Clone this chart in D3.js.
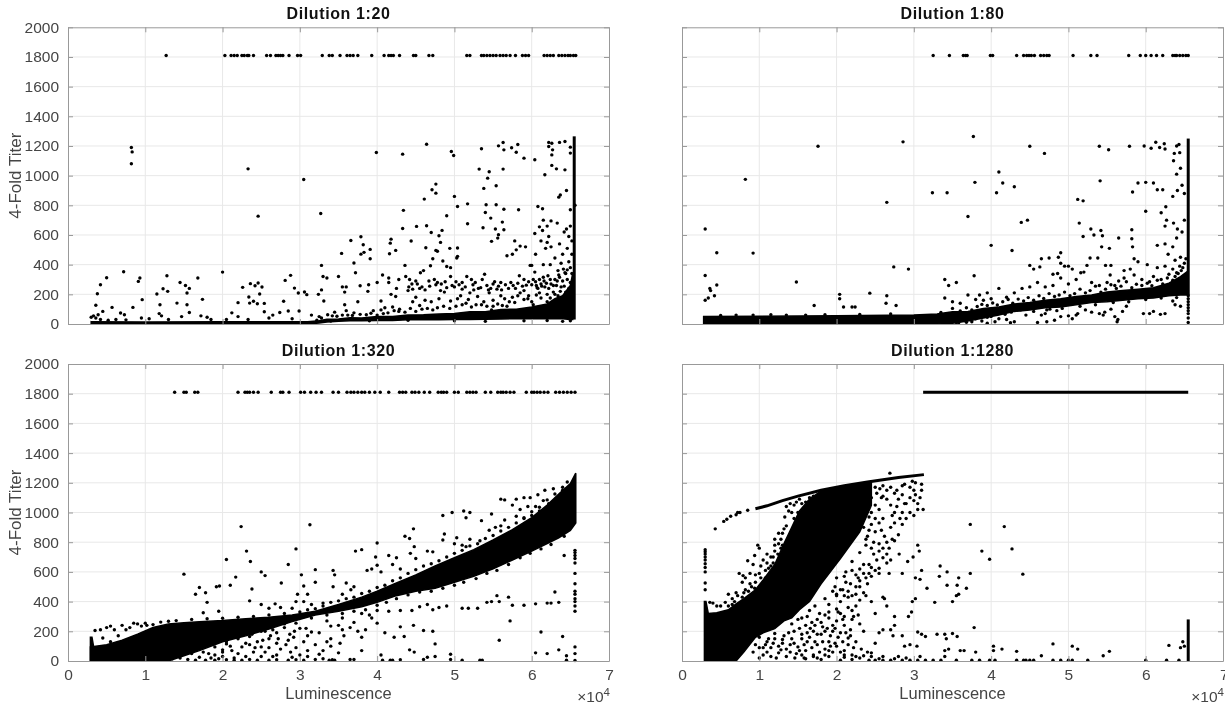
<!DOCTYPE html>
<html><head><meta charset="utf-8">
<script src="https://cdn.jsdelivr.net/npm/d3@7"></script>
<style>
html,body{margin:0;padding:0;background:#fff}
svg{display:block;filter:blur(0.35px)}
text{font-family:"Liberation Sans",Arial,sans-serif}
</style></head><body><svg id="c" width="1225" height="705"></svg>
<script>
const titles=["Dilution 1:20","Dilution 1:80","Dilution 1:320","Dilution 1:1280"];
const xTicks=[0,1,2,3,4,5,6,7];
const yTicks=[0,200,400,600,800,1000,1200,1400,1600,1800,2000];
const topTiter=1810;

const top1=[1.27,2.03,2.11,2.15,2.19,2.25,2.28,2.32,2.34,2.4,2.57,2.62,2.69,2.72,2.75,2.78,2.86,2.97,3.01,3.29,3.38,3.42,3.52,3.61,3.65,3.69,3.75,3.93,4.09,4.15,4.18,4.21,4.29,4.47,4.5,4.67,4.72,5.16,5.2,5.35,5.38,5.42,5.46,5.5,5.54,5.59,5.63,5.67,5.72,5.79,5.88,5.92,5.96,6.16,6.2,6.24,6.28,6.35,6.39,6.43,6.47,6.5,6.54,6.57];
const top2=[3.25,3.46,3.64,3.67,3.69,3.99,4.02,4.33,4.42,4.46,4.49,4.52,4.56,4.64,4.68,4.72,4.75,5.06,5.29,5.37,5.78,5.93,6.0,6.07,6.14,6.22,6.35,6.38,6.4,6.44,6.48,6.52,6.55];
const top3=[1.38,1.5,1.53,1.64,1.68,2.2,2.29,2.32,2.35,2.4,2.46,2.63,2.75,2.78,2.86,3.01,3.06,3.14,3.21,3.28,3.43,3.5,3.61,3.66,3.7,3.75,3.8,3.84,3.9,3.97,4.04,4.15,4.29,4.33,4.37,4.45,4.49,4.54,4.61,4.68,4.79,4.83,4.86,4.9,5.0,5.05,5.16,5.2,5.24,5.28,5.4,5.47,5.56,5.6,5.63,5.67,5.72,5.77,5.93,6.0,6.03,6.07,6.11,6.16,6.21,6.31,6.36,6.41,6.46,6.51,6.56];
const topLine4=[[3.12,1810],[6.55,1810]];

const scatter1=[[.82,1190],[.83,1160],[.82,1080],[.72,352],[.5,312],[.42,265],[.38,204],[.36,126],[.57,112],[.45,85],[.68,74],[.73,62],[.84,112],[.91,287],[.93,310],[.96,164],[1.15,202],[1.19,130],[1.23,238],[1.28,325],[1.29,220],[1.41,141],[1.45,280],[1.52,260],[1.57,240],[1.54,209],[1.54,130],[1.57,78],[1.68,310],[1.74,166],[2,350],[2.2,144],[2.26,247],[2.36,272],[2.46,276],[2.42,258],[2.51,249],[2.48,202],[2.34,182],[2.4,153],[2.45,137],[2.35,141],[2.54,139],[2.54,83],[2.81,294],[2.88,328],[2.79,153],[2.93,242],[2.98,209],[3.06,216],[3.09,198],[2.99,88],[2.85,88],[2.74,78],[2.65,60],[.3,45],[.33,55],[.36,40],[.39,62],[.42,30],[.52,25],[.62,30],[.75,28],[.95,40],[1.05,35],[1.18,70],[1.21,55],[1.3,30],[1.47,50],[1.72,55],[1.8,45],[1.85,30],[2.05,30],[2.12,75],[2.2,50],[2.33,30],[2.6,40],[2.9,35],[3.15,60],[3.25,50],
[2.33,1046],[2.46,727],[3.05,974],[3.27,745],[3.99,1156],[4.33,1145],[4.64,1212],[4.96,1163],[4.99,1136],[5.35,1181],[5.57,1201],[5.63,1223],[5.64,1174],[5.74,1188],[5.82,1210],[5.8,1158],[5.9,1118],[6.04,1107],[6.22,1224],[6.26,1218],[6.36,1224],[6.43,1230],[6.22,1197],[6.27,1174],[6.26,1140],[6.26,1069],[6.32,1046],[6.17,1006],[6.43,1039],[6.5,1192],[6.5,1152],[5.32,1044],[5.45,1026],[5.43,983],[5.63,1044],[5.38,914],[5.54,932],[4.76,943],[4.71,905],[4.76,882],[4.61,842],[5,860],[5.04,792],[5.17,810],[5.41,804],[5.54,804],[5.4,752],[5.47,714],[5.64,774],[5.83,770],[6.08,792],[6.14,777],[4.34,766],[4.9,730],[5.17,676],[5.37,649],[5.53,640],[5.62,687],[5.64,635],[5.57,602],[5.56,579],[5.48,557],[4.33,644],[4.51,658],[4.64,662],[4.7,617],[4.44,559],[4.84,631],[4.8,595],[4.82,550],[4.63,514],[4.76,496],[4.94,510],[5.04,512],[3.66,563],[3.79,588],[3.82,534],[4.18,572],[4.17,545],[4.24,496],[3.91,503],[3.83,483],[3.79,471],[3.54,476],[4.16,474],[3.91,440],[3.7,411],[3.28,395],[4.36,395],[4.69,393],[4.9,388],[5.04,456],[5.03,445],[4.78,490],[4.72,440],[4.85,425],[4.95,380],[6.45,900],[6.37,870],[6.35,855],[6.5,770],[6.56,800],[6.15,700],[6.25,695],[6.33,680],[6.2,660],[6.1,655],[6.04,610],[6.14,630],[6.22,590],[6.12,560],[6.2,550],[6.18,510],[6.25,520],[6.36,540],[6.45,640],[6.5,660],[6.42,620],[6.48,590],[6.52,560],[6.4,470],[6.46,510],[6.52,470],[6.3,445],[6.05,470],[6.15,400],[6.24,400],[6,395],[5.92,520],[5.78,560],[5.8,500],[5.75,470],[5.68,460],[5.85,525],[5.98,395],
[3.3,320],[3.35,310],[3.28,230],[3.24,200],[3.31,155],[3.5,320],[3.55,250],[3.6,250],[3.58,215],[3.72,345],[3.78,258],[3.89,265],[3.88,220],[3.58,130],[3.6,90],[3.75,150],[4,280],[4.07,330],[4.15,310],[4.15,280],[4.28,300],[4.25,240],[4.18,200],[4.24,185],[4.29,100],[4.42,300],[4.37,320],[4.41,250],[4.46,235],[4.5,290],[4.52,270],[4.56,345],[4.6,360],[4.67,290],[4.74,300],[4.78,280],[4.83,270],[4.88,285],[4.95,320],[5,250],[5.06,265],[5.1,235],[5.16,320],[5.22,300],[5.27,280],[5.31,240],[5.39,335],[5.42,260],[5.47,240],[5.52,285],[5.57,255],[5.61,230],[5.66,265],[5.73,280],[5.79,240],[5.84,325],[5.9,300],[5.96,285],[6.04,350],[6.06,260],[6.1,300],[6.16,290],[6.21,325],[6.25,270],[6.3,300],[6.34,360],[6.38,250],[6.44,340],[4.4,225],[4.46,150],[4.5,180],[4.55,125],[4.62,160],[4.7,150],[4.8,170],[4.95,155],[5.08,190],[5.15,140],[5.2,210],[5.3,185],[5.35,130],[5.45,210],[5.5,160],[5.6,190],[5.68,120],[5.75,180],[5.85,210],[5.95,170],[6.02,130],[6.1,210],[6.2,150],[6.3,200],[6.4,180],[4.05,155],[4.1,110],[4.2,115],[3.95,90],[4.05,95],[3.7,75],[3.45,80],[5.25,230],[4.58,250],[4.87,215],[5.9,225],[6.07,245],[6.17,250],[6.32,260],[6.12,270],[5.04,170],[5.48,95],[6.48,420],[6.38,410],[6.5,380],[6.43,345]];
const extra1=[[4.45,270],[4.55,240],[4.62,230],[4.68,255],[4.76,265],[4.82,225],[4.9,245],[4.97,260],[5.02,285],[5.1,280],[5.14,250],[5.24,265],[5.34,245],[5.36,300],[5.44,230],[5.5,270],[5.55,235],[5.6,280],[5.7,240],[5.76,260],[5.82,275],[5.88,255],[5.93,262],[6,265],[6.02,300],[6.05,285],[6.08,240],[6.13,255],[6.15,315],[6.19,275],[6.22,240],[6.24,300],[6.28,260],[6.33,290],[6.36,315],[6.4,290],[6.42,255],[6.46,300],[6.5,280],[6.52,340],[6.48,240],[6.35,330],[6.41,370],[6.46,365],[6.2,200],[6.24,175],[6.28,215],[6.34,190],[6.37,220],[6.44,215],[6.47,190],[6.12,175],[6.06,195],[6,150],[5.96,190],[5.9,165],[5.82,190],[5.78,145],[5.71,150],[5.65,170],[5.62,125],[5.56,135],[5.5,120],[5.42,120],[5.38,150],[5.28,130],[5.22,115],[5.18,165],[5.1,130],[5.02,120],[4.94,105],[4.86,120],[4.78,110],[4.72,95],[4.65,105],[4.58,100],[4.5,85],[4.43,105],[4.36,80],[4.28,85],[4.22,90],[4.14,75],[4.08,70],[4,60],[3.92,72],[3.86,62],[3.78,65],[3.68,58],[3.62,60],[3.55,60],[3.48,52],[3.42,55],[3.36,62],[3.28,40],[3.22,25],[3.4,20],[3.9,22],[4.4,25],[5,22],[5.4,18],[5.9,22],[6.2,24],[6.4,18],[6.5,22]];
const band1=[[.3,0,16],[1,0,14],[2,0,15],[3.1,0,16],[3.25,6,22],[3.35,14,32],[3.5,18,34],[3.65,22,42],[3.8,22,40],[4,24,50],[4.2,24,50],[4.4,28,60],[4.6,28,62],[4.8,28,68],[5,30,70],[5.2,30,82],[5.4,32,82],[5.6,34,98],[5.8,36,100],[6,36,115],[6.2,36,135],[6.3,36,170],[6.4,36,190],[6.5,30,260],[6.53,30,340]];
const bar1=[[6.55,30],[6.55,1265]];

const scatter2=[[.3,640],[.3,327],[.45,480],[.45,263],[.36,240],[.37,225],[.42,190],[.34,175],[.3,160],[.82,975],[.92,478],[1.48,283],[1.76,1198],[1.71,125],[2.04,200],[2.04,170],[2.09,115],[2.2,115],[2.24,115],[2.43,208],[2.65,820],[2.64,140],[2.65,190],[2.77,125],[2.74,385],[2.93,370],[2.86,1228],[3.24,885],[3.43,885],[3.7,725],[3.77,1264],[3.79,955],[3.78,325],[3.4,300],[3.45,260],[3.55,280],[4.07,885],[4.0,530],[4.1,1025],[4.15,950],[4.3,925],[4.39,685],[4.47,700],[4.27,495],[4.5,1198],[4.69,1150],[4.9,480],[4.9,410],[4.75,445],[4.65,440],[4.5,395],[4.55,370],[4.63,385],[4.8,335],[4.86,340],[4.87,450],[4.95,390],[5.0,390],[5.05,370],[5.14,680],[5.19,590],[5.16,345],[5.24,395],[5.28,445],[5.12,840],[5.19,830],[5.29,640],[5.33,600],[5.42,630],[5.44,595],[5.43,520],[5.38,445],[5.48,395],[5.55,395],[5.54,330],[5.53,510],[5.65,580],[5.82,635],[5.82,575],[5.83,520],[5.85,440],[5.79,1198],[5.4,1198],[5.52,1175],[5.41,965],[5.83,890],[5.9,950],[6.0,955],[6.1,950],[6.15,905],[6.22,905],[6.0,760],[6.26,790],[6.35,860],[6.4,1010],[6.45,1050],[6.41,900],[6.47,935],[6.5,880],[6.36,1100],[6.4,1200],[6.18,1190],[6.07,1185],[5.98,1200],[6.13,1225],[6.24,1215],[6.25,1180],[6.37,1150],[6.44,1155],[6.43,1210],[6.2,750],[6.25,660],[6.27,700],[6.36,680],[6.41,640],[6.47,620],[6.5,700],[6.4,580],[6.35,520],[6.25,540],[6.15,530],[6.29,470],[6.25,390],[6.38,430],[6.4,345],[6.35,370],[6.15,380],[6.02,400],[5.9,420],[5.8,370],[5.85,330],[5.72,360],[5.72,310],[5.65,290],[5.6,260],[5.5,280],[5.4,260],[5.3,280],[5.2,350],[5.1,300],[5.0,270],[4.9,310],[4.8,260],[4.7,250],[4.6,280],[4.5,250],[4.4,240],[4.3,210],[4.2,180],[4.1,240],[4,170],[3.95,210],[3.9,160],[3.85,195],[3.8,165],[3.7,195],[3.6,140],[3.5,150],[3.4,175],[5.95,300],[6.05,285],[6.1,320],[6.2,300],[6.3,335],[6.45,450],[6.48,380],[6.2,240],[5.97,70],[6.05,70],[6.1,85],[6.19,65],[6.25,70],[6.35,155],[6.45,120],[6.38,130],[5.45,60],[5.55,100],[5.47,80],[5.4,70],[5.3,80],[5.1,60],[5.0,55],[5.05,35],[4.85,90],[4.82,25],[4.6,10],[4.1,35],[4.2,30],[3.55,10],[3.3,20],[3.65,30],[3.75,15],[4.3,15],[4.45,60],[4.65,60],[4.9,50],[5.6,50],[5.63,15],[5.64,30],[3.8,60],[4,50],[4.7,70],[4.76,100],[5.22,95],[5.12,70],[5.7,85],[5.75,120]];
const extra2=[[3.35,78],[3.5,105],[3.6,88],[3.68,110],[3.75,95],[3.82,118],[3.88,132],[3.95,125],[4.02,142],[4.08,128],[4.15,150],[4.22,165],[4.28,140],[4.35,168],[4.42,155],[4.48,178],[4.55,160],[4.62,190],[4.68,172],[4.75,205],[4.82,185],[4.88,195],[4.95,215],[5.02,190],[5.08,205],[5.15,235],[5.22,210],[5.28,225],[5.35,255],[5.42,215],[5.48,235],[5.55,265],[5.62,240],[5.68,255],[5.75,285],[5.82,245],[5.88,268],[5.95,260],[6.02,275],[6.08,258],[6.15,295],[6.22,270],[6.28,310],[6.35,295],[6.42,340],[6.46,360],[6.5,410],[6.52,440],[6.44,390],[6.38,320],[3.42,30],[3.5,20],[3.6,45],[3.72,60],[3.8,35],[3.88,20],[3.95,45],[4.02,70],[4.18,65],[4.26,80],[4.38,95],[4.55,85],[4.72,95],[4.92,105],[5.15,120],[5.35,130],[5.58,145],[5.78,150],[6.0,165],[6.2,175],[6.4,178],[3.4,5],[3.58,8],[3.68,12],[3.95,5],[4.05,15],[4.25,8],[4.72,15],[.5,58],[.7,60],[.92,60],[1.15,62],[1.35,60],[1.6,60],[1.85,62],[2.3,64],[2.7,68]];
const band2=[[.28,0,50],[1,0,52],[2,0,56],[3,0,60],[3.3,0,68],[3.5,5,82],[3.7,20,85],[3.9,40,105],[4.1,60,115],[4.3,85,135],[4.5,95,145],[4.7,110,160],[4.9,115,170],[5.1,130,185],[5.3,145,195],[5.5,150,215],[5.7,160,225],[5.9,170,235],[6.1,175,245],[6.3,190,275],[6.45,195,320],[6.53,195,350]];
const bar2=[[6.55,195],[6.55,1250]];
const vert2=[[6.55,190],[6.55,170],[6.55,150],[6.55,130],[6.55,110],[6.55,90],[6.55,70],[6.55,40],[6.55,10]];

const scatter3=[[1.5,585],[1.65,450],[1.7,495],[1.78,460],[1.8,395],[1.75,325],[1.92,500],[1.96,505],[1.95,335],[2.1,510],[2.05,683],[2.17,565],[2.24,905],[2.31,740],[2.36,670],[2.38,485],[2.35,405],[2.5,600],[2.55,575],[2.85,650],[2.76,525],[2.95,755],[3.13,918],[2.97,450],[3.02,580],[3.05,505],[3.2,615],[3.2,530],[3.1,450],[2.9,355],[2.6,355],[2.5,380],[2.68,385],[2.75,360],[2.95,400],[3.05,400],[3.15,380],[3.3,390],[3.43,610],[3.45,580],[3.43,500],[3.55,450],[3.6,525],[3.66,480],[3.7,500],[3.72,740],[3.8,750],[3.87,610],[3.93,620],[4,795],[3.98,700],[4,645],[4.05,600],[4.15,710],[4.2,650],[4.25,695],[4.3,620],[4.36,840],[4.42,825],[4.47,890],[4.48,770],[4.43,725],[4.5,690],[4.65,740],[4.72,735],[4.85,980],[4.97,1000],[5.12,1010],[5.15,965],[5.2,1000],[5.35,945],[5.48,990],[4.87,855],[4.85,815],[5.0,790],[5.03,830],[5.1,780],[5.15,770],[5.2,820],[5.33,810],[5.6,1090],[5.65,1085],[5.8,1090],[5.9,1100],[5.98,1100],[6.08,1120],[6.17,1150],[6.28,1160],[6.3,1080],[6.4,1150],[5.53,900],[5.65,950],[5.75,1050],[5.85,1020],[5.95,1040],[6.05,1040],[6.1,1010],[6.22,1060],[5.45,880],[5.6,910],[5.8,975],[5.9,960],[6,980],[6.15,1080],[6.25,1015],[1.0,255],[.9,250],[.85,255],[.7,240],[.55,235],[.35,205],[.42,210],[.5,225],[.6,210],[.75,210],[.45,155],[.55,130],[.65,170],
[6.35,395],[6.25,390],[6.2,390],[6.05,385],[5.9,375],[5.75,375],[5.7,430],[5.55,440],[5.48,400],[5.58,400],[5.42,395],[5.3,355],[5.18,355],[5.1,355],[4.9,370],[4.8,360],[4.72,345],[4.65,380],[4.55,365],[4.45,340],[4.3,340],[4.15,335],[4,340],[6.3,465],[6.42,710],[5.72,270],[5.58,140],[6.12,195],[6.4,165],[6.05,55],[6.2,50],[6.35,75],[6.45,35],[4.75,115],[4.95,45],[4.72,200],[4.6,205],[4.47,240],[4.3,230],[4.35,165],[4.22,160],[4.1,190],[4,255],[3.93,290],[3.9,310],[3.8,320],[3.7,260],[3.75,200],[3.85,210],[3.8,160],[3.8,70],[3.7,10],[3.65,10],[3.65,225],[3.55,210],[3.5,240],[3.4,235],[3.35,270],[3.55,290],[3.35,130],[3.4,150],[3.52,120],[3.57,170],[3.25,190],[3.15,195],[3.08,220],[3.1,170],[3.05,130],[2.93,200],[2.87,180],[2.8,225],[2.7,190],[2.6,150],[2.55,200],[2.5,95],[2.45,130],[2.38,180],[2.3,120],[2.2,160],[2.1,100],[2.0,75],[2.05,130],[1.9,40],[3.3,70],[3.4,100],[3.5,55],[3.3,15],[3.38,5],[3.42,8],[3.45,5],[3.2,10],[3.05,5],[2.95,8],[2.85,5],[2.7,8],[2.6,5],[2.45,5],[2.35,10],[2.25,5],[2.05,8],[4.05,40],[4.07,5],[4.17,5],[4.2,5],[4.3,8],[4.42,75],[4.48,60],[4.6,10],[4.65,25],[4.75,30],[4.95,10],[5.1,5],[5.33,5],[5.36,5],[6.45,5],[2.7,120],[2.85,140],[2.95,90],[2.55,60],[2.65,30],[2.75,80],[2.88,60],[3,40],[3.1,70],[3.2,110],[2.4,60],[2.3,30],[2.2,50],[2.15,20],[2.6,90],[2.5,30],[2.7,40],[2.9,25],[3.1,30],[3.25,45],[1.95,15],[2.0,30],[1.85,20]];
const extra3=[[.8,225],[.95,235],[1.02,240],[1.1,245],[1.2,262],[1.3,268],[1.4,272],[1.6,280],[1.8,285],[2,288],[2.2,295],[2.4,300],[2.6,310],[2.8,320],[3,330],[3.1,345],[3.2,352],[3.3,370],[3.4,395],[3.5,405],[3.6,420],[3.7,430],[3.8,455],[3.9,470],[4,495],[4.1,510],[4.2,540],[4.3,560],[4.4,590],[4.5,615],[4.6,640],[4.7,655],[4.8,675],[4.9,700],[5,725],[5.1,745],[5.2,775],[5.3,790],[5.4,825],[5.5,845],[5.6,875],[5.7,900],[5.8,930],[5.9,965],[6,1005],[6.1,1035],[6.2,1085],[6.3,1125],[6.4,1170],[6.46,1205],[3.15,290],[3.35,310],[3.55,320],[3.7,335],[3.85,345],[4,375],[4.12,395],[4.25,420],[4.4,445],[4.55,465],[4.7,470],[4.85,490],[5,510],[5.12,530],[5.28,555],[5.42,590],[5.55,610],[5.7,650],[5.85,695],[5.98,725],[6.12,755],[6.25,785],[6.42,840],[1.35,15],[1.45,20],[1.6,50],[1.75,60],[1.9,95],[2.05,115],[2.2,150],[2.35,165],[2.5,200],[2.65,210],[2.8,250],[2.95,255],[1.55,10],[1.7,25],[1.82,50],[2,60],[2.12,70],[2.25,95],[2.35,110],[2.42,90],[2.52,140],[2.62,170],[2.72,150],[2.82,110],[2.92,160],[3,220],[1.65,5],[1.78,5],[1.9,5],[2.15,5]];
const band3=[[.29,0,95],[.5,0,110],[.7,0,140],[.9,0,180],[1.1,0,225],[1.3,0,250],[1.5,35,258],[1.7,70,265],[2,130,272],[2.3,170,285],[2.6,215,295],[2.9,265,310],[3.2,310,335],[3.5,335,380],[3.8,365,430],[4,395,470],[4.25,440,525],[4.5,470,580],[4.75,490,640],[5,530,695],[5.25,570,750],[5.5,620,815],[5.75,680,885],[6,740,965],[6.2,790,1050],[6.35,830,1125],[6.5,880,1195],[6.57,930,1265]];
const spike3=[[.29,0,160],[.31,0,160],[.33,0,100]];
const vert3=[[6.56,745],[6.56,730],[6.56,710],[6.56,690],[6.56,660],[6.56,590],[6.56,520],[6.56,470],[6.56,450],[6.56,420],[6.56,400],[6.56,370],[6.56,335],[6.56,95],[6.56,50],[6.56,3]];

const scatter4=[[.43,890],[.54,940],[.58,955],[.63,975],[.7,985],[.75,1000],[.85,1015],[2.69,1265],[.3,750],[.3,735],[.3,720],[.3,700],[.3,680],[.3,655],[.3,630],[.3,600],[.3,525],[.3,480],[.36,395],[.4,390],[.45,370],[.5,370],[.56,395],[.65,420],[.7,460],[.6,450],[.8,460],[.74,590],[.79,575],[.88,590],[.85,675],[.94,710],[1,760],[.98,780],[.92,650],[1,590],[.82,560],[.78,530],[.95,530],[.9,500],[1.05,680],[1.1,720],[1.15,640],[1.2,780],[1.25,790],[1.18,700],[1.12,625],[1.08,560],[1.3,860],[1.35,910],[1.4,850],[1.33,970],[1.38,1010],[1.45,960],[1.5,1000],[1.55,1060],[1.45,1050],[1.6,1070],[1.3,780],[1.24,720],[1.28,820],[1.36,800],[.72,1000],
[1,160],[1.1,130],[1.2,185],[1.3,145],[1.4,110],[1.15,90],[1.25,55],[1.4,60],[1.5,95],[1.6,70],[1.7,40],[1.55,150],[1.65,160],[1.75,110],[1.85,80],[1.95,60],[1.45,200],[1.6,240],[1.7,200],[1.8,180],[1.9,130],[2,100],[2.1,70],[2.2,40],[1.75,280],[1.85,310],[1.95,240],[2.05,190],[2.15,155],[2.25,130],[2.32,80],[2.1,300],[2.0,350],[2.15,360],[2.2,280],[2.3,250],[2.35,200],[2.25,370],[2.3,410],[1.9,380],[1.95,470],[2.0,440],[2.05,400],[2.08,480],[2.12,530],[2.18,520],[2.25,500],[2.35,460],[2.38,440],[2.45,400],[2.5,320],[2.55,190],[2.5,120],[2.45,55],[2.55,15],[2.7,210],[2.73,170],[2.85,170],[2.88,100],[2.95,110],[2.93,300],[2.97,330],[2.75,300],[2.75,240],[2.6,210],[2.65,370],[2.45,570],[2.5,610],[2.55,625],[2.6,430],[2.62,420],[2.68,590],[2.7,680],[2.3,620],[2.35,650],[2.42,650],[2.48,720],[2.55,590],[2.6,695],[2.65,660],[2.72,820],[2.81,720],[2.85,590],[2.92,670],[2.99,700],[3.02,560],[3.05,780],[3.07,740],[3.1,610],[3.08,550],[3.02,420],[2.98,400],[3.05,195],[3.1,180],[3.15,165],[3.04,100],[3.08,30],[3.3,180],[3.27,395],[3.17,490],[3.34,640],[3.33,570],[3.43,600],[3.43,510],[3.56,510],[3.58,560],[3.58,450],[3.55,440],[3.5,400],[3.68,490],[3.73,590],[3.73,920],[3.88,740],[3.98,685],[4.17,905],[4.27,755],[4.41,585],[3.78,225],[3.4,180],[3.5,185],[3.56,165],[3.42,150],[3.4,70],[3.45,80],[3.6,70],[3.65,70],[3.8,60],[4.03,100],[4.14,80],[4.03,70],[4.33,65],[4.65,35],[4.8,115],[5.05,100],[5.12,80],[5.45,35],[5.53,65],[6.3,105],[6.45,90],[6.48,130],[6.5,100],[4.9,5],[4.8,5],[5,5],[5.05,5],[5.25,5],[4.55,5],[4.5,5],[4.42,5],[4.45,5],[4.33,5],[4.05,5],[3.85,5],[3.75,5],[3.98,5],[3.55,5],[6,5],[6.27,5],[6.43,5],
[2.4,1040],[2.45,1000],[2.5,1050],[2.55,1020],[2.6,1110],[2.65,1090],[2.7,1050],[2.75,1000],[2.8,1090],[2.85,1120],[2.9,1060],[2.95,1170],[3,1150],[3.05,1060],[3.08,1100],[3.1,1190],[2.6,1180],[2.65,1150],[2.9,960],[2.95,1000],[3,980],[3.05,1020],[2.55,930],[2.6,960],[2.7,900],[2.8,850],[2.85,920],[2.75,810],[2.65,800],[2.5,870],[2.55,790],[2.4,840],[2.45,760],[2.38,780],[2.78,1150],[2.88,1190],[2.98,1210],[3.02,1200],[2.85,1000],[3.12,1020],[3.1,1150],[1.65,1100],[1.7,1110],
[2,450],[2.15,430],[1.9,330],[1.8,260],[2.2,340],[1.62,300],[1.5,280],[1.42,250],[2.4,520],[2.28,560],[2.25,580],[2.2,610],[2.12,600],[2.0,560],[2.4,60],[2.3,20],[2.2,10],[2.1,25],[2.05,5],[1.9,30],[1.8,10],[1.6,15],[2.42,5],[2.5,5],[2.6,5],[2.7,5],[2.75,15],[2.85,5],[2.95,5],[3.05,5],[3.15,5],[3.25,5],[3.35,5],[3.4,30]];
const extra4=[[.85,130],[.95,110],[1.05,90],[1.12,150],[1.18,120],[1.05,40],[1.15,30],[1.25,100],[1.35,80],[1.32,170],[1.42,150],[1.48,50],[1.55,40],[1.58,110],[1.68,90],[1.72,130],[1.78,60],[1.82,130],[1.62,190],[1.52,220],[1.72,240],[1.78,320],[1.9,290],[1.95,200],[2,270],[2.05,320],[2.02,160],[2.1,240],[1.88,220],[1.92,170],[1.82,230],[1.98,120],[2.08,130],[2.12,190],[2.18,210],[2.22,90],[2.18,170],[2.28,310],[2.05,480],[2.1,440],[2.15,470],[2.2,440],[2.25,450],[2.3,500],[2.3,540],[2.38,560],[2.35,590],[2.42,590],[2.45,630],[2.52,680],[2.55,740],[2.6,760],[2.65,720],[2.48,800],[2.42,880],[2.45,920],[2.5,960],[2.58,880],[2.62,840],[2.68,760],[2.75,930],[2.72,980],[2.78,1040],[2.82,960],[2.88,1060],[2.95,1100],[3,1080],[3.02,1120],[2.58,1100],[2.52,1130],[2.5,1170],[2.56,1160],[2.7,1170],[2.75,1130],[2.85,1180],[1.2,820],[1.25,860],[1.32,890],[1.28,760],[1.2,740],[1.15,700],[1.1,660],[1.02,640],[.95,580],[.88,520],[.82,480],[.72,440],[.65,380],[.6,370],[.68,400],[.78,430],[.86,470],[.94,490],[1.02,560],[1.08,610],[1.18,660],[1.35,1040],[1.42,1000],[1.48,1070],[1.52,1090],[1.4,1060],[1.7,30],[1.9,70],[2.1,40],[2.25,30],[2.45,30],[2.35,35],[2.6,30],[2.8,30],[2.9,20],
[.92,60],[1,20],[1,90],[1.08,110],[1.1,60],[1.2,150],[1.22,20],[1.28,75],[1.3,120],[1.35,30],[1.38,190],[1.45,120],[1.46,20],[1.52,70],[1.55,180],[1.58,20],[1.62,130],[1.66,220],[1.68,260],[1.75,180],[1.75,20],[1.85,200],[1.85,40],[1.92,100],[1.98,220],[2.02,330],[2.05,60],[2.08,280],[2.15,110],[2.22,300],[1.55,290],[1.65,340],[1.72,370],[1.85,420],[1.98,500],[2.1,570],[2.2,670],[2.3,730],[2.38,820],[2.45,1100],[2.35,900],[2.42,970]];
const band4=[[.29,0,400],[.31,0,400],[.34,0,320],[.45,0,325],[.6,0,345],[.7,0,385],[.8,60,420],[.95,160,480],[1.05,190,545],[1.2,218,650],[1.32,270,790],[1.42,290,900],[1.52,345,1010],[1.65,400,1090],[1.8,520,1145],[2.05,690,1175],[2.3,870,1195],[2.45,1048,1208]];
const curve4=[[.95,1025],[1.1,1045],[1.3,1080],[1.5,1110],[1.8,1150],[2.1,1180],[2.4,1205],[2.8,1235],[3.13,1255]];
const bar4=[[6.55,0],[6.55,280]];

const panels=[
 {title:titles[0],px:[68,609],py:[324,27.3],top:top1,scatter:scatter1.concat(extra1),bands:[band1],bar:bar1,xLab:false,yLab:true},
 {title:titles[1],px:[682,1223],py:[324,27.3],top:top2,scatter:scatter2.concat(vert2,extra2),bands:[band2],bar:bar2,xLab:false,yLab:false},
 {title:titles[2],px:[68,609],py:[661,364],top:top3,scatter:scatter3.concat(vert3,extra3),bands:[band3,spike3],xLab:true,yLab:true},
 {title:titles[3],px:[682,1223],py:[661,364],scatter:scatter4.concat(extra4),bands:[band4],bar:bar4,line:curve4,topLine:topLine4,xLab:true,yLab:false}
];
const svg=d3.select("#c");
const textCol="#454545";
panels.forEach(p=>{
 const x=d3.scaleLinear().domain([0,7]).range(p.px);
 const y=d3.scaleLinear().domain([0,2000]).range(p.py);
 const g=svg.append("g");
 g.append("g").selectAll("line").data(xTicks.slice(1,-1)).join("line")
  .attr("x1",d=>x(d)).attr("x2",d=>x(d)).attr("y1",p.py[0]).attr("y2",p.py[1]).attr("stroke","#e8e8e8").attr("stroke-width",1);
 g.append("g").selectAll("line").data(yTicks.slice(1,-1)).join("line")
  .attr("y1",d=>y(d)).attr("y2",d=>y(d)).attr("x1",p.px[0]).attr("x2",p.px[1]).attr("stroke","#e8e8e8").attr("stroke-width",1);
 const area=d3.area().x(d=>x(d[0])).y0(d=>y(d[1])).y1(d=>y(d[2]));
 p.bands.forEach(b=>g.append("path").attr("d",area(b)).attr("fill","#000").attr("stroke","#000").attr("stroke-width",1.5));
 const ln=d3.line().x(d=>x(d[0])).y(d=>y(d[1]));
 if(p.bar) g.append("path").attr("d",ln(p.bar)).attr("stroke","#000").attr("stroke-width",3).attr("fill","none");
 if(p.line) g.append("path").attr("d",ln(p.line)).attr("stroke","#000").attr("stroke-width",3).attr("fill","none");
 if(p.topLine) g.append("path").attr("d",ln(p.topLine)).attr("stroke","#000").attr("stroke-width",3).attr("fill","none");
 g.append("g").selectAll("circle").data(p.scatter).join("circle")
  .attr("cx",d=>x(d[0])).attr("cy",d=>y(d[1])).attr("r",1.7).attr("fill","#000");
 if(p.top) g.append("g").selectAll("circle").data(p.top).join("circle")
  .attr("cx",d=>x(d)).attr("cy",y(topTiter)).attr("r",1.7).attr("fill","#000");
 const ax=(gen,tx,ty)=>{const a=g.append("g").attr("transform",`translate(${tx},${ty})`).call(gen);
   a.selectAll("path.domain").attr("stroke","#999").attr("stroke-width",1);
   a.selectAll(".tick line").attr("stroke","#999");
   a.selectAll("text").attr("fill",textCol).attr("font-size",15.5).attr("font-family",'"Liberation Sans",Arial,sans-serif');
   return a;};
 const xb=d3.axisBottom(x).tickValues(xTicks).tickSizeInner(-5).tickSizeOuter(0).tickPadding(8).tickFormat(p.xLab?d3.format("d"):"");
 const xt=d3.axisTop(x).tickValues(xTicks).tickSizeInner(-5).tickSizeOuter(0).tickFormat("");
 const yl=d3.axisLeft(y).tickValues(yTicks).tickSizeInner(-5).tickSizeOuter(0).tickPadding(9).tickFormat(p.yLab?d3.format("d"):"");
 const yr=d3.axisRight(y).tickValues(yTicks).tickSizeInner(-5).tickSizeOuter(0).tickFormat("");
 const xa=ax(xb,0,p.py[0]);ax(xt,0,p.py[1]);ax(yl,p.px[0],0);ax(yr,p.px[1],0);
 if(p.px[1]>1200) xa.selectAll(".tick text").filter(d=>d===7).attr("text-anchor","end").attr("dx",5);
 g.append("text").text(p.title).attr("x",(p.px[0]+p.px[1])/2).attr("y",p.py[1]-8).attr("text-anchor","middle")
  .attr("font-size",16).attr("letter-spacing",".6px").attr("font-weight","bold").attr("fill","#111");
 if(p.yLab) g.append("text").text("4-Fold Titer").attr("transform",`translate(21,${(p.py[0]+p.py[1])/2}) rotate(-90)`)
  .attr("text-anchor","middle").attr("font-size",17).attr("fill",textCol);
 if(p.xLab){
  g.append("text").text("Luminescence").attr("x",(p.px[0]+p.px[1])/2).attr("y",699).attr("text-anchor","middle").attr("font-size",16.5).attr("fill",textCol);
  const m=g.append("text").attr("x",p.px[1]+1).attr("y",702).attr("text-anchor","end").attr("font-size",15.5).attr("fill",textCol);
  m.append("tspan").text("×10");
  m.append("tspan").text("4").attr("dy",-6).attr("font-size",11.5);
 }
});
</script></body></html>
